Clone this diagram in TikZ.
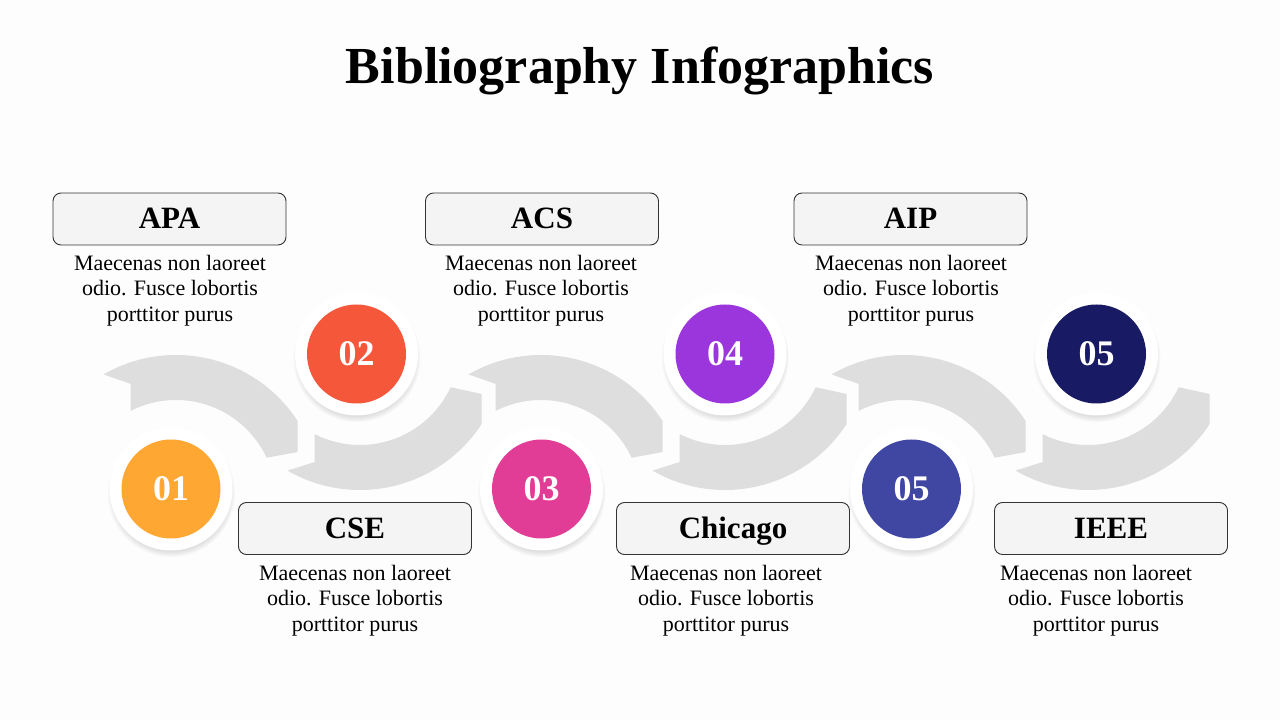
\documentclass[tikz,border=0pt]{standalone}
\usepackage{fontspec}
\setmainfont{Liberation Serif}
\usetikzlibrary{shadows,calc}
\definecolor{bg}{HTML}{FDFDFD}
\definecolor{bandgray}{HTML}{DEDEDE}
\definecolor{boxfill}{HTML}{F4F4F4}
\definecolor{boxline}{HTML}{333333}
\definecolor{cA}{HTML}{FFA733}
\definecolor{cB}{HTML}{F5573A}
\definecolor{cC}{HTML}{E23D96}
\definecolor{cD}{HTML}{9B36DC}
\definecolor{cE}{HTML}{3F47A3}
\definecolor{cF}{HTML}{181A63}
\newcommand\bandUp[2]{%
  \fill[bandgray] ($(#1,#2)+(120:145)$) arc[start angle=120,end angle=33,radius=145]
    -- ++(0,-31) -- ($(#1,#2)+(25:100)$) arc[start angle=25,end angle=117,radius=100]
    -- ++(0,27) -- cycle;}
\newcommand\bandDown[2]{%
  \fill[bandgray] ($(#1,#2)+(-117:100)$) arc[start angle=-117,end angle=-25,radius=100]
    -- ($(#1,#2)+(-33:145)+(0,30)$) -- ($(#1,#2)+(-33:145)$)
    arc[start angle=-33,end angle=-120,radius=145]
    -- ($(#1,#2)+(-117:100)+(0,-28)$) -- cycle;}
\tikzset{
  lbox/.style={draw=boxline, line width=0.9pt, fill=boxfill, rounded corners=8pt,
    minimum width=233pt, minimum height=52pt, inner sep=0pt,
    font=\fontsize{31}{31}\selectfont\bfseries, text height=20pt, text depth=0pt},
  body/.style={align=center, font=\fontsize{22}{25.5}\selectfont, anchor=base, inner sep=0pt},
  ring/.style={circle, fill=white, minimum size=123pt, inner sep=0pt,
    circular drop shadow={shadow xshift=0pt, shadow yshift=-4pt, shadow scale=1.04, opacity=.35}},
  num/.style={circle, minimum size=99pt, inner sep=0pt, text=white,
    font=\fontsize{36}{36}\selectfont\bfseries},
  title/.style={font=\fontsize{52}{52}\selectfont\bfseries, anchor=base, inner sep=0pt}
}
\begin{document}
\begin{tikzpicture}[x=1pt,y=1pt]
\useasboundingbox (0,0) rectangle (1280,720);
\fill[bg] (0,0) rectangle (1280,720);
\node[title] (t) at (640,636) {Bibliography Infographics};
% bands
\bandUp{176}{220}
\bandDown{360}{375}
\bandUp{541}{220}
\bandDown{725}{375}
\bandUp{904}{220}
\bandDown{1088}{375}
% circles
\node[ring] (r1) at (171,231) {};
\node[num, fill=cA] (n1) at (r1) {01};
\node[ring] (r2) at (356.5,366) {};
\node[num, fill=cB] (n2) at (r2) {02};
\node[ring] (r3) at (541.5,231) {};
\node[num, fill=cC] (n3) at (r3) {03};
\node[ring] (r4) at (725,366) {};
\node[num, fill=cD] (n4) at (r4) {04};
\node[ring] (r5) at (911.5,231) {};
\node[num, fill=cE] (n5) at (r5) {05};
\node[ring] (r6) at (1096.5,366) {};
\node[num, fill=cF] (n6) at (r6) {05};
% label boxes
\node[lbox] (apa) at (169.5,501) {APA};
\node[lbox] (acs) at (542,501) {ACS};
\node[lbox] (aip) at (910.5,501) {AIP};
\node[lbox] (cse) at (355,191.5) {CSE};
\node[lbox] (chi) at (733,191.5) {Chicago};
\node[lbox] (ieee) at (1111,191.5) {IEEE};
% body texts (base anchor = last line's baseline)
\node[body] (tapa) at (170,398.5) {Maecenas non laoreet\\odio. Fusce lobortis\\porttitor purus};
\node[body] (tacs) at (541,398.5) {Maecenas non laoreet\\odio. Fusce lobortis\\porttitor purus};
\node[body] (taip) at (911,398.5) {Maecenas non laoreet\\odio. Fusce lobortis\\porttitor purus};
\node[body] (tcse) at (355,88.5) {Maecenas non laoreet\\odio. Fusce lobortis\\porttitor purus};
\node[body] (tchi) at (726,88.5) {Maecenas non laoreet\\odio. Fusce lobortis\\porttitor purus};
\node[body] (tieee) at (1096,88.5) {Maecenas non laoreet\\odio. Fusce lobortis\\porttitor purus};
\end{tikzpicture}
\end{document}
